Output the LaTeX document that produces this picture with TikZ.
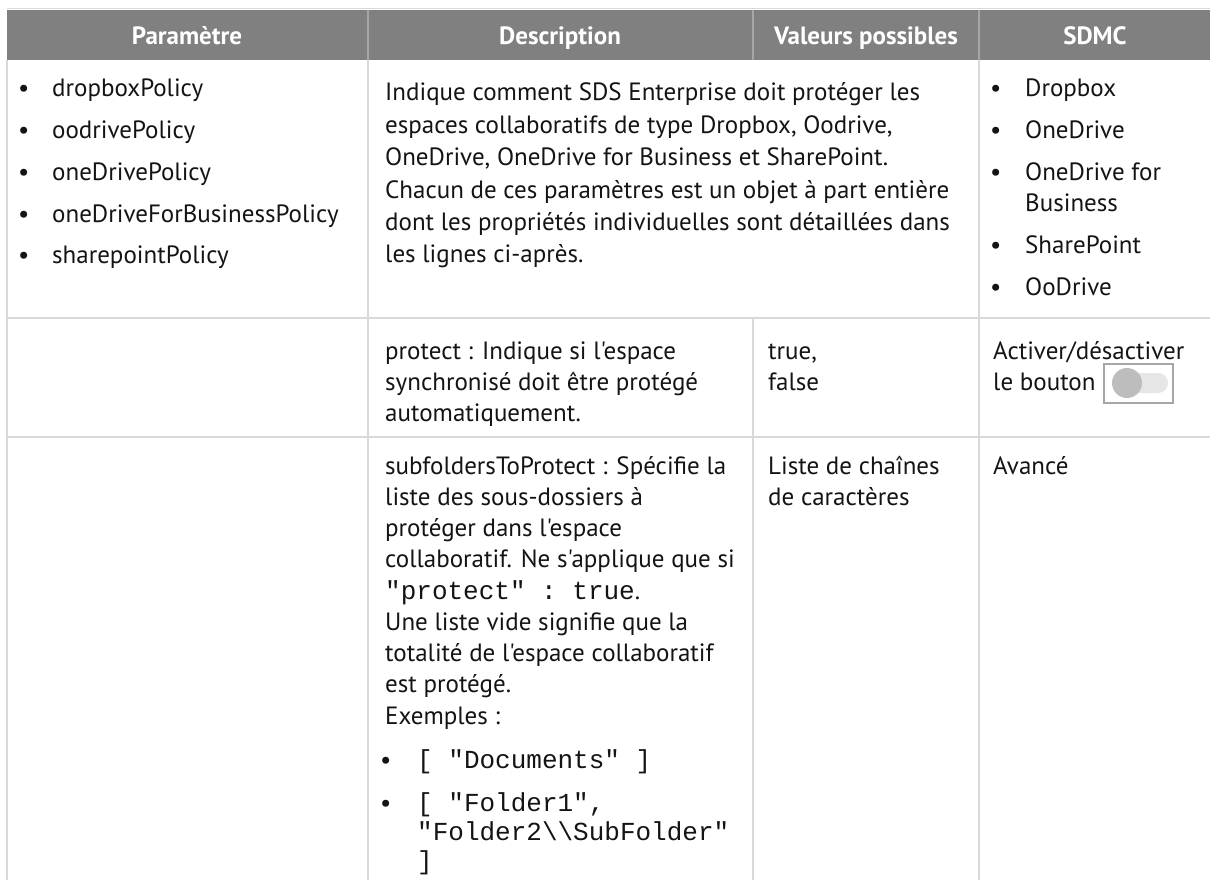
\documentclass[tikz,border=0pt]{standalone}
\usepackage{fontspec}
\setmainfont{PT Sans}[Ligatures=TeXOff]
\setmonofont{Liberation Mono}
\definecolor{headgray}{HTML}{808080}
\definecolor{headrule}{HTML}{A6A6A6}
\definecolor{rulegray}{HTML}{D9D9D9}
\definecolor{inkblack}{HTML}{141414}
\definecolor{knobgray}{HTML}{BDBDBD}
\definecolor{trackgray}{HTML}{E6E6E6}
\newcommand\headfont{\bfseries\fontsize{25}{30}\selectfont}
\newcommand\bodyfont{\fontsize{25}{31.25}\selectfont}
\newcommand\codefont{\ttfamily\fontsize{26}{29}\selectfont}
\newcommand\celltext[1]{\begin{tabular}[t]{@{}l@{}}#1\end{tabular}}
\tikzset{gridline/.style={draw=rulegray,line width=2pt},
	headline/.style={draw=headrule,line width=1.5pt},
	headcell/.style={anchor=base,inner sep=0pt,text=white,font=\headfont},
	cell/.style={anchor=base west,inner sep=0pt,text=inkblack,font=\bodyfont},
	}

\begin{document}
\begin{tikzpicture}[x=1pt,y=-1pt]
	\useasboundingbox[fill=white] (0,0) rectangle (1210,880);
	% header
	\fill[headgray] (7,10) rectangle (1210,60);
	\draw[gridline,line width=1pt] (7,9) -- (1210,9);
	\draw[headline] (368,10) -- (368,60) (753,10) -- (753,60) (979,10) -- (979,60);
	\node[headcell] (hdParam) at (187,45) {Paramètre};
	\node[headcell] (hdDesc) at (560,45) {Description};
	\node[headcell] (hdVal) at (866,45) {Valeurs possibles};
	\node[headcell] (hdSdmc) at (1095,45) {SDMC};
	% grid
	\draw[gridline] (7,60) -- (7,880) (368,60) -- (368,880) (979,60) -- (979,880)
		(753,318) -- (753,880) (7,318) -- (1210,318) (7,437) -- (1210,437);
	% row 1
	\node[cell] (paramList) at (18,97) {\begin{tabular}[t]{@{}p{34pt}@{}l@{}}
		\textbullet & dropboxPolicy\\[10.5pt]
		\textbullet & oodrivePolicy\\[10.5pt]
		\textbullet & oneDrivePolicy\\[10.5pt]
		\textbullet & oneDriveForBusinessPolicy\\[10.5pt]
		\textbullet & sharepointPolicy
		\end{tabular}};
	\node[cell,font=\fontsize{25}{32.4}\selectfont] (descMain) at (385,101) {\celltext{Indique comment SDS Enterprise doit protéger les\\
		espaces collaboratifs de type Dropbox, Oodrive,\\
		OneDrive, OneDrive for Business et SharePoint.\\
		Chacun de ces paramètres est un objet à part entière\\
		dont les propriétés individuelles sont détaillées dans\\
		les lignes ci-après.}};
	\node[cell] (sdmcList) at (990,97) {\begin{tabular}[t]{@{}p{35pt}@{}l@{}}
		\textbullet & Dropbox\\[10.5pt]
		\textbullet & OneDrive\\[10.5pt]
		\textbullet & OneDrive for\\
		& Business\\[10.5pt]
		\textbullet & SharePoint\\[10.5pt]
		\textbullet & OoDrive
		\end{tabular}};
	% row 2
	\node[cell] (descProtect) at (385,359) {\celltext{protect : Indique si l'espace\\
		synchronisé doit être protégé\\
		automatiquement.}};
	\node[cell] (valProtect) at (768,359) {\celltext{true,\\false}};
	\node[cell] (sdmcProtect) at (993,359) {\celltext{Activer/désactiver\\le bouton}};
	\draw[draw=headrule,line width=2pt] (1104,364) rectangle (1173,403);
	\fill[trackgray,rounded corners=10pt] (1115,373) rectangle (1168,393);
	\fill[knobgray] (1127,383) circle (15);
	% row 3
	\node[cell] (descSub) at (385,474) {\celltext{subfoldersToProtect : Spécifie la\\
		liste des sous-dossiers à\\
		protéger dans l'espace\\
		collaboratif. Ne s'applique que si\\
		{\codefont "protect" : true}.\\
		Une liste vide signifie que la\\
		totalité de l'espace collaboratif\\
		est protégé.\\
		Exemples :}};
	\node[cell] (exList) at (380,768) {\begin{tabular}[t]{@{}p{37pt}@{}l@{}}
		\textbullet & {\codefont [ "Documents" ]}\\[12pt]
		\textbullet & {\codefont\celltext{[ "Folder1",\\"Folder2\textbackslash\textbackslash SubFolder"\\]}}
		\end{tabular}};
	\node[cell] (valSub) at (768,474) {\celltext{Liste de chaînes\\de caractères}};
	\node[cell] (sdmcSub) at (993,474) {Avancé};
\end{tikzpicture}
\end{document}
